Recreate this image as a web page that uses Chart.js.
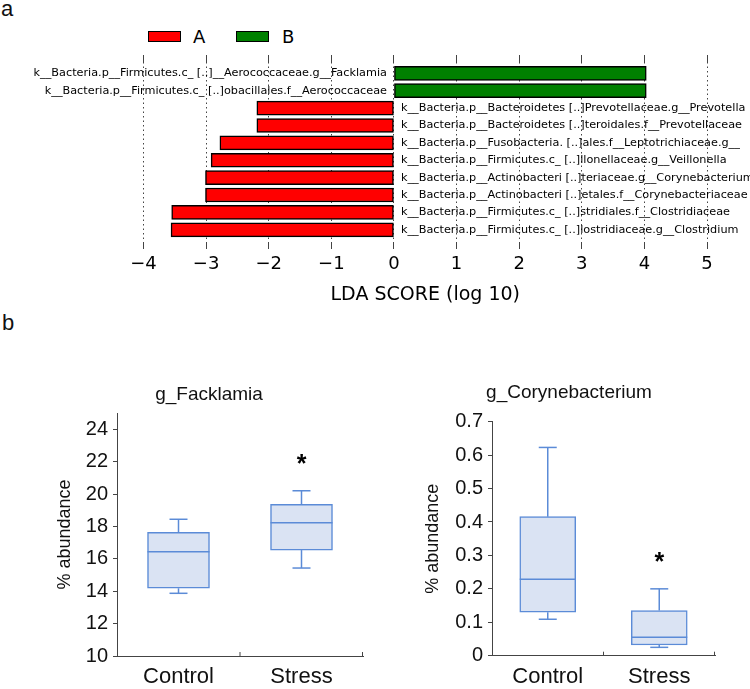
<!DOCTYPE html>
<html>
<head>
<meta charset="utf-8">
<script src="https://cdn.jsdelivr.net/npm/chart.js@4.4.1/dist/chart.umd.min.js"></script>
<style>
  body { margin: 0; background: #fff; }
  #wrap { position: relative; width: 750px; height: 689px; overflow: hidden; font-family: "Liberation Sans", Arial, sans-serif; }
  canvas { position: absolute; }
  .tag { position: absolute; font-size: 22px; line-height: 22px; color: #111; }
  .leg { position: absolute; top: 31px; height: 11px; width: 33px; box-sizing: border-box; border: 1.5px solid #000; }
  .legTxt { position: absolute; top: 26px; font: 18px/21px "DejaVu Sans"; color: #000; }
</style>
</head>
<body>
<div id="wrap">
  <div class="tag" style="left:1px; top:-2px">a</div>
  <div class="tag" style="left:2px; top:312px">b</div>
  <div class="leg" style="left:148px; background:#ff0000"></div>
  <div class="legTxt" style="left:193px">A</div>
  <div class="leg" style="left:236px; background:#008000"></div>
  <div class="legTxt" style="left:282px">B</div>
  <canvas id="lda" width="750" height="310" style="left:0; top:0"></canvas>
  <canvas id="fack" width="340" height="314" style="left:40px; top:375px"></canvas>
  <canvas id="cory" width="318" height="314" style="left:410px; top:375px"></canvas>
</div>
<script>
// ---- panel a: LEfSe LDA scores ----
const taxa = [
    "k__Bacteria.p__Firmicutes.c_ [..]__Aerococcaceae.g__Facklamia",
    "k__Bacteria.p__Firmicutes.c_ [..]obacillales.f__Aerococcaceae",
    "k__Bacteria.p__Bacteroidetes [..]Prevotellaceae.g__Prevotella",
    "k__Bacteria.p__Bacteroidetes [..]teroidales.f__Prevotellaceae",
    "k__Bacteria.p__Fusobacteria. [..]ales.f__Leptotrichiaceae.g__",
    "k__Bacteria.p__Firmicutes.c_ [..]llonellaceae.g__Veillonella",
    "k__Bacteria.p__Actinobacteri [..]teriaceae.g__Corynebacterium",
    "k__Bacteria.p__Actinobacteri [..]etales.f__Corynebacteriaceae",
    "k__Bacteria.p__Firmicutes.c_ [..]stridiales.f__Clostridiaceae",
    "k__Bacteria.p__Firmicutes.c_ [..]lostridiaceae.g__Clostridium"
];
const ldaScore = [4.03, 4.03, -2.19, -2.19, -2.78, -2.92, -3.01, -3.01, -3.55, -3.56];
const ldaGroup = ['B', 'B', 'A', 'A', 'A', 'A', 'A', 'A', 'A', 'A'];
const ldaTicks = [-4, -3, -2, -1, 0, 1, 2, 3, 4, 5];

// ---- panel b: box plots ----
const groups = ['Control', 'Stress'];
const fackMin = [13.87, 15.43], fackQ1 = [14.18, 16.54], fackMed = [16.44, 18.23], fackQ3 = [17.63, 19.36], fackMax = [18.44, 20.2];
const coryMin = [0.109, 0.025], coryQ1 = [0.130, 0.032], coryMed = [0.229, 0.055], coryQ3 = [0.416, 0.135], coryMax = [0.623, 0.2];
const signif = ['', '*'];
const fackTicks = [10, 12, 14, 16, 18, 20, 22, 24];
const coryTicks = [0, 0.1, 0.2, 0.3, 0.4, 0.5, 0.6, 0.7];

Chart.defaults.font.family = '"Liberation Sans", Arial, sans-serif';
Chart.defaults.color = '#000';

const ldaLabels = {
    id: 'ldaLabels',
    afterDraw(chart) {
        const { ctx, scales: { x, y } } = chart;
        const x0 = x.getPixelForValue(0);
        ctx.save();
        ctx.font = '11.25px "DejaVu Sans"';
        ctx.fillStyle = '#000';
        ctx.textBaseline = 'middle';
        taxa.forEach((t, i) => {
            const py = y.getPixelForValue(i);
            if (ldaScore[i] > 0) { ctx.textAlign = 'right'; ctx.fillText(t, x0 - 7, py); }
            else { ctx.textAlign = 'left'; ctx.fillText(t, x0 + 7, py); }
        });
        ctx.restore();
    }
};

function ldaSet(g, color) {
    return {
        label: g,
        data: ldaScore.map((v, i) => ({ x: v, y: i })).filter((d, i) => ldaGroup[i] === g),
        backgroundColor: color, borderColor: '#000', borderWidth: 1.5, borderSkipped: false,
        barThickness: 14, grouped: false
    };
}
const setTicks = list => s => { s.ticks = list.map(v => ({ value: v })); };

new Chart(document.getElementById('lda'), {
    type: 'bar',
    data: { datasets: [ldaSet('A', '#ff0000'), ldaSet('B', '#008000')] },
    options: {
        animation: false, responsive: false, indexAxis: 'y',
        layout: { padding: { left: 143.5, right: 43, top: 55, bottom: 0 } },
        plugins: { legend: { display: false }, tooltip: { enabled: false } },
        scales: {
            y: {
                type: 'linear', min: -0.65, max: 9.7, reverse: true, display: false,
                offset: false, grid: { offset: false }
            },
            x: {
                type: 'linear', min: -4, max: 5, position: 'bottom', z: 1,
                afterBuildTicks: setTicks(ldaTicks),
                afterFit: s => { s.height = 68; },
                grid: { color: '#444', lineWidth: 1, tickLength: 7, tickColor: '#444', tickBorderDash: [] },
                border: { display: false, dash: [1.5, 3] },
                ticks: {
                    font: { family: 'DejaVu Sans', size: 18 }, color: '#000', padding: 5,
                    callback: v => (v < 0 ? '\u2212' + Math.abs(v) : String(v))
                },
                title: {
                    display: true, text: 'LDA SCORE (log 10)', color: '#000',
                    font: { family: 'DejaVu Sans', size: 19 }, padding: { top: 0, bottom: 3.6 }
                }
            },
            x2: {
                type: 'linear', min: -4, max: 5, position: 'top',
                afterBuildTicks: setTicks(ldaTicks),
                afterFit: s => { s.height = 7; },
                grid: { drawOnChartArea: false, tickLength: 7, color: '#444' },
                border: { display: false },
                ticks: { display: false }
            }
        }
    },
    plugins: [ldaLabels]
});

const boxBlue = '#5b8bd7';
function boxParts(mins, meds, maxs, capW) {
    return {
        id: 'boxParts',
        afterDatasetsDraw(chart) {
            const { ctx, scales: { x, y }, chartArea } = chart;
            ctx.save();
            ctx.strokeStyle = boxBlue;
            ctx.lineWidth = 1.5;
            const line = (x1, y1, x2, y2) => { ctx.beginPath(); ctx.moveTo(x1, y1); ctx.lineTo(x2, y2); ctx.stroke(); };
            groups.forEach((g, i) => {
                const cx = x.getPixelForValue(i);
                const bar = chart.getDatasetMeta(0).data[i];
                const pMin = y.getPixelForValue(mins[i]), pMax = y.getPixelForValue(maxs[i]);
                line(cx, pMax, cx, Math.min(bar.y, bar.base));
                line(cx, pMin, cx, Math.max(bar.y, bar.base));
                line(cx - capW / 2, pMax, cx + capW / 2, pMax);
                line(cx - capW / 2, pMin, cx + capW / 2, pMin);
                const pMed = y.getPixelForValue(meds[i]);
                line(cx - bar.width / 2, pMed, cx + bar.width / 2, pMed);
                if (signif[i]) {
                    ctx.fillStyle = '#000';
                    ctx.font = 'bold 25px "Liberation Sans"';
                    ctx.textAlign = 'center';
                    ctx.textBaseline = 'alphabetic';
                    ctx.fillText(signif[i], cx, pMax - 33 + 14);
                }
            });
            // small inward ticks between categories and at the end of the axis
            ctx.strokeStyle = '#444';
            ctx.lineWidth = 1;
            const mid = (x.getPixelForValue(0) + x.getPixelForValue(1)) / 2;
            [mid, chartArea.right - 0.5].forEach(px => line(px, chartArea.bottom, px, chartArea.bottom - 4));
            ctx.restore();
        }
    };
}

function boxChart(id, title, mins, q1s, meds, q3s, maxs, yTicks, yMin, yMax, geo) {
    new Chart(document.getElementById(id), {
        type: 'bar',
        data: {
            labels: groups,
            datasets: [{
                data: groups.map((g, i) => [q1s[i], q3s[i]]),
                backgroundColor: '#dae3f3', borderColor: boxBlue, borderWidth: 1.5,
                borderSkipped: false, barThickness: geo.boxW
            }]
        },
        options: {
            animation: false, responsive: false,
            layout: { padding: { left: geo.left, right: geo.right, top: 0, bottom: 0 } },
            plugins: {
                legend: { display: false }, tooltip: { enabled: false },
                title: {
                    display: true, text: title, color: '#111',
                    font: { size: 19, weight: 'normal' }, padding: geo.titlePad
                }
            },
            scales: {
                x: {
                    type: 'category', offset: true,
                    afterFit: s => { s.height = geo.xH; },
                    grid: { display: false },
                    border: { color: '#444', width: 1 },
                    ticks: { font: { size: 22 }, color: '#111', padding: 0 }
                },
                y: {
                    min: yMin, max: yMax,
                    afterBuildTicks: setTicks(yTicks),
                    afterFit: s => { s.width = geo.yW; },
                    grid: { drawOnChartArea: false, tickLength: 4, color: '#444' },
                    border: { color: '#444', width: 1 },
                    ticks: { font: { size: 20 }, color: '#111', padding: 5 },
                    title: {
                        display: true, text: '% abundance', color: '#111',
                        font: { size: 18 }, padding: { top: geo.yTitleTop, bottom: 0 }
                    }
                }
            }
        },
        plugins: [boxParts(mins, meds, maxs, 18)]
    });
}

boxChart('fack', 'g_Facklamia', fackMin, fackQ1, fackMed, fackQ3, fackMax, fackTicks, 10, 25,
    { boxW: 62, left: 15, right: 17, yW: 62, xH: 33, yTitleTop: -0.8, titlePad: { top: 8.6, bottom: 6.6 } });
boxChart('cory', 'g_Corynebacterium', coryMin, coryQ1, coryMed, coryQ3, coryMax, coryTicks, 0, 0.7,
    { boxW: 56, left: 13, right: 13, yW: 69, xH: 33.3, yTitleTop: -0.8, titlePad: { top: 6.6, bottom: 17.3 } });
</script>
</body>
</html>
